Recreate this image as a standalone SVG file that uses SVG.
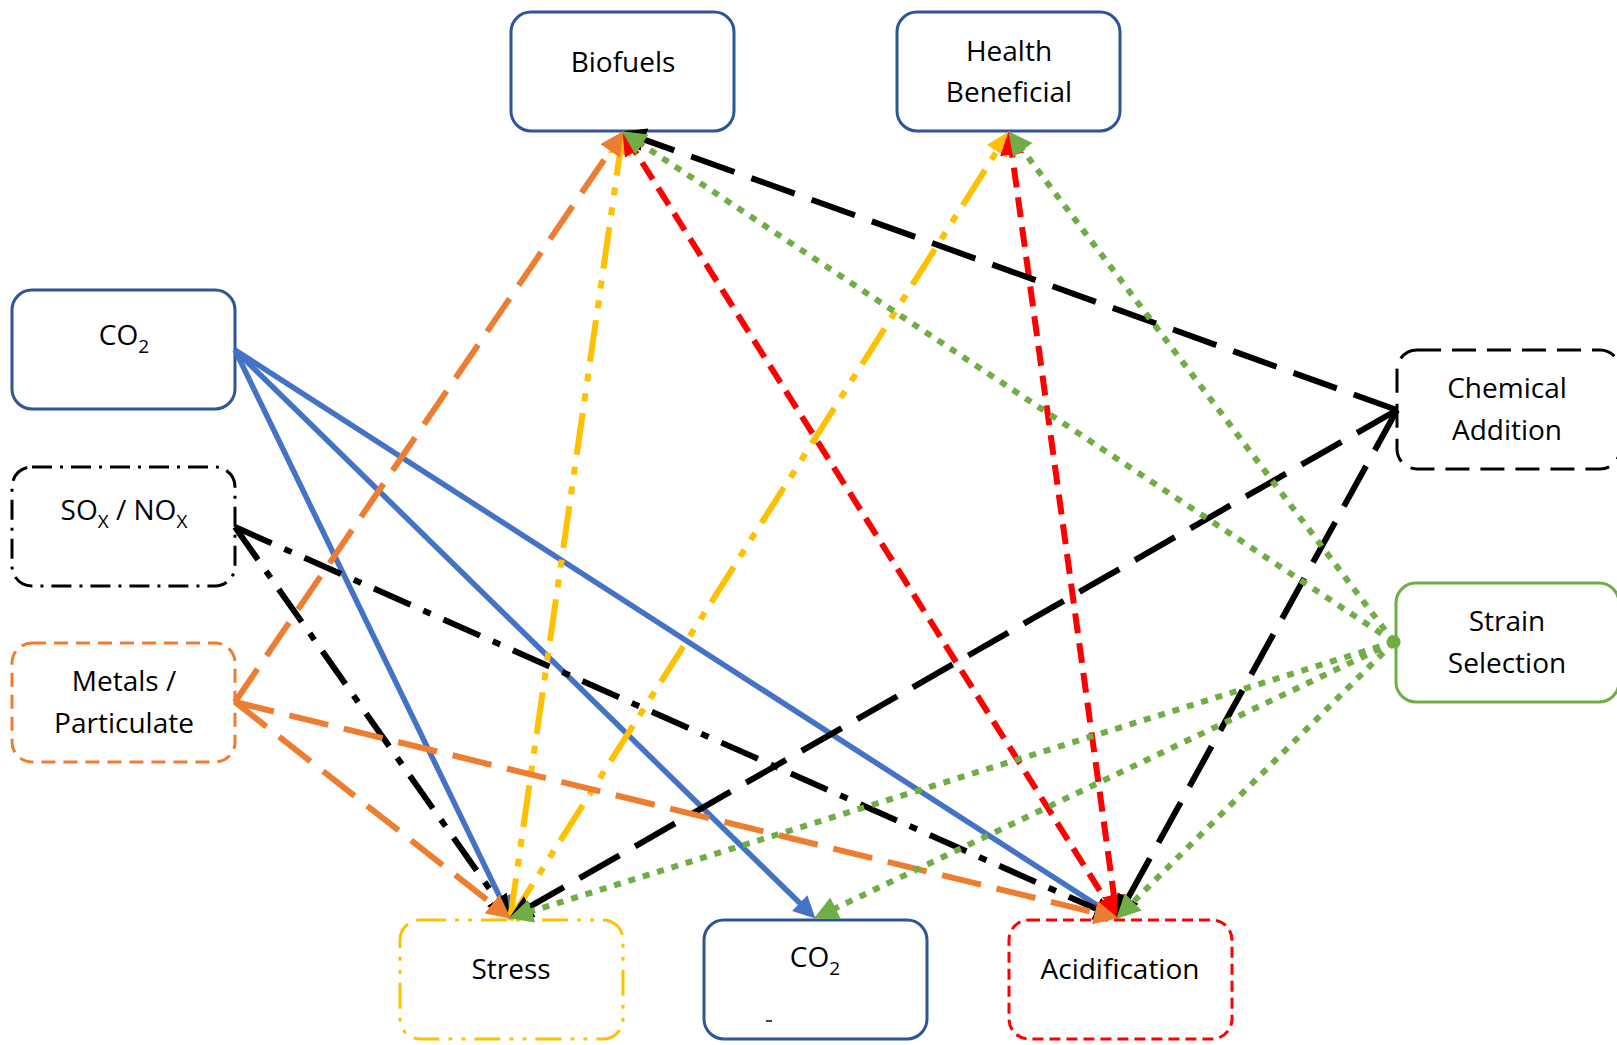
<svg xmlns="http://www.w3.org/2000/svg" width="1617" height="1045" viewBox="0 0 1617 1045">
<style>
  .box { fill: #fff; stroke-width: 3; }
  .lbl { font-family: "Open Sans", "Liberation Sans", sans-serif; font-size: 28px; fill: #000; text-anchor: middle; }
  .sub { font-size: 19px; }
  .c { fill: none; stroke-width: 6; }
  .blue { stroke: #4472C4; stroke-width: 5.5; }
  .bdd { stroke: #000; stroke-dasharray: 40 14 8 14; }
  .org { stroke: #ED7D31; stroke-dasharray: 40 16; }
  .yel { stroke: #FFC000; stroke-dasharray: 42 12 8 12 8 12; }
  .red { stroke: #FF0000; stroke-dasharray: 20 10; }
  .bld { stroke: #000; stroke-dasharray: 46 18; }
  .grn { stroke: #70AD47; stroke-dasharray: 7 8; }
</style>
<defs>
  <marker id="aBlue" viewBox="0 0 10 10" refX="7" refY="5" markerWidth="4" markerHeight="4" orient="auto-start-reverse"><path d="M0,0 L10,5 L0,10 z" fill="#4472C4"/></marker>
  <marker id="aBlk" viewBox="0 0 10 10" refX="7" refY="5" markerWidth="4" markerHeight="4" orient="auto-start-reverse"><path d="M0,0 L10,5 L0,10 z" fill="#000"/></marker>
  <marker id="aOrg" viewBox="0 0 10 10" refX="7" refY="5" markerWidth="4" markerHeight="4" orient="auto-start-reverse"><path d="M0,0 L10,5 L0,10 z" fill="#ED7D31"/></marker>
  <marker id="aYel" viewBox="0 0 10 10" refX="7" refY="5" markerWidth="4" markerHeight="4" orient="auto-start-reverse"><path d="M0,0 L10,5 L0,10 z" fill="#FFC000"/></marker>
  <marker id="aRed" viewBox="0 0 10 10" refX="7" refY="5" markerWidth="4" markerHeight="4" orient="auto-start-reverse"><path d="M0,0 L10,5 L0,10 z" fill="#FF0000"/></marker>
  <marker id="aGrn" viewBox="0 0 10 10" refX="7" refY="5" markerWidth="4" markerHeight="4" orient="auto-start-reverse"><path d="M0,0 L10,5 L0,10 z" fill="#70AD47"/></marker>
  <marker id="dGrn" viewBox="0 0 10 10" refX="5" refY="5" markerWidth="2.2" markerHeight="2.8" orient="auto"><ellipse cx="5" cy="5" rx="5" ry="5" fill="#70AD47"/></marker>
</defs>

<g id="nodes">
  <g id="biofuels">
    <rect class="box" x="511" y="12" width="223" height="119" rx="20" stroke="#2F5597"/>
    <text class="lbl" x="623" y="72">Biofuels</text>
  </g>
  <g id="health">
    <rect class="box" x="897" y="12" width="223" height="119" rx="20" stroke="#2F5597"/>
    <text class="lbl" x="1009" y="61">Health</text>
    <text class="lbl" x="1009" y="102">Beneficial</text>
  </g>
  <g id="co2-source">
    <rect class="box" x="12" y="290" width="223" height="119" rx="20" stroke="#2F5597"/>
    <text class="lbl" x="124" y="345">CO<tspan class="sub" dy="8">2</tspan></text>
  </g>
  <g id="sox-nox">
    <rect class="box" x="12" y="467" width="223" height="119" rx="20" stroke="#000" stroke-dasharray="20 8 3 8"/>
    <text class="lbl" x="124" y="520">SO<tspan class="sub" dy="8">X</tspan><tspan dy="-8"> / NO</tspan><tspan class="sub" dy="8">X</tspan></text>
  </g>
  <g id="metals">
    <rect class="box" x="12" y="643" width="223" height="119" rx="20" stroke="#ED7D31" stroke-dasharray="14 8"/>
    <text class="lbl" x="124" y="691">Metals /</text>
    <text class="lbl" x="124" y="733">Particulate</text>
  </g>
  <g id="chemical">
    <rect class="box" x="1397" y="350" width="223" height="119" rx="20" stroke="#000" stroke-dasharray="24 11"/>
    <text class="lbl" x="1507" y="398">Chemical</text>
    <text class="lbl" x="1507" y="440">Addition</text>
  </g>
  <g id="strain">
    <rect class="box" x="1396" y="583" width="223" height="119" rx="20" stroke="#70AD47"/>
    <text class="lbl" x="1507" y="631">Strain</text>
    <text class="lbl" x="1507" y="673">Selection</text>
  </g>
  <g id="stress">
    <rect class="box" x="400" y="920" width="223" height="119" rx="20" stroke="#FFC000" stroke-dasharray="26 9 4 9 4 9"/>
    <text class="lbl" x="511" y="979">Stress</text>
  </g>
  <g id="co2-target">
    <rect class="box" x="704" y="920" width="223" height="119" rx="20" stroke="#2F5597"/>
    <text class="lbl" x="815" y="967">CO<tspan class="sub" dy="8">2</tspan></text>
    <rect x="766" y="1020" width="6" height="2" fill="#444"/>
  </g>
  <g id="acidification">
    <rect class="box" x="1009" y="920" width="223" height="119" rx="20" stroke="#FF0000" stroke-dasharray="11 6"/>
    <text class="lbl" x="1120" y="979">Acidification</text>
  </g>
</g>

<g id="connectors">
  <line class="c blue" x1="235" y1="350" x2="507.4" y2="912.6" marker-end="url(#aBlue)"/>
  <line class="c blue" x1="235" y1="350" x2="810.7" y2="913.8" marker-end="url(#aBlue)"/>
  <line class="c blue" x1="235" y1="350" x2="1112" y2="914.8" marker-end="url(#aBlue)"/>

  <line class="c bdd" x1="235" y1="527" x2="506.5" y2="913.1" marker-end="url(#aBlk)"/>
  <line class="c bdd" x1="235" y1="527" x2="1111.5" y2="915.6" marker-end="url(#aBlk)"/>

  <line class="c yel" x1="510" y1="920" x2="622.1" y2="137.9" marker-end="url(#aYel)"/>
  <line class="c yel" x1="510" y1="920" x2="1005.8" y2="137.1" marker-end="url(#aYel)"/>

  <line class="c red" x1="626.2" y1="137.1" x2="1113.8" y2="912.9" marker-start="url(#aRed)" marker-end="url(#aRed)"/>
  <line class="c red" x1="1009.8" y1="137.9" x2="1116.2" y2="912.1" marker-start="url(#aRed)" marker-end="url(#aRed)"/>

  <line class="c bld" x1="1397" y1="410" x2="628.6" y2="134" marker-end="url(#aBlk)"/>
  <line class="c bld" x1="1397" y1="410" x2="515.2" y2="915" marker-end="url(#aBlk)"/>
  <line class="c bld" x1="1397" y1="410" x2="1119.9" y2="912.7" marker-end="url(#aBlk)"/>

  <line class="c org" x1="235" y1="702" x2="619.6" y2="137" marker-end="url(#aOrg)"/>
  <line class="c org" x1="235" y1="702" x2="505.3" y2="914.3" marker-end="url(#aOrg)"/>
  <line class="c org" x1="235" y1="702" x2="1111.2" y2="916.6" marker-end="url(#aOrg)"/>

  <line class="c grn" x1="1394" y1="642" x2="628" y2="135.3" marker-start="url(#dGrn)" marker-end="url(#aGrn)"/>
  <line class="c grn" x1="1394" y1="642" x2="1012.6" y2="136.8" marker-end="url(#aGrn)"/>
  <line class="c grn" x1="1394" y1="642" x2="515.7" y2="916.2" marker-end="url(#aGrn)"/>
  <line class="c grn" x1="1394" y1="642" x2="820.4" y2="915.4" marker-end="url(#aGrn)"/>
  <line class="c grn" x1="1394" y1="642" x2="1121.3" y2="913.8" marker-end="url(#aGrn)"/>
</g>
</svg>
